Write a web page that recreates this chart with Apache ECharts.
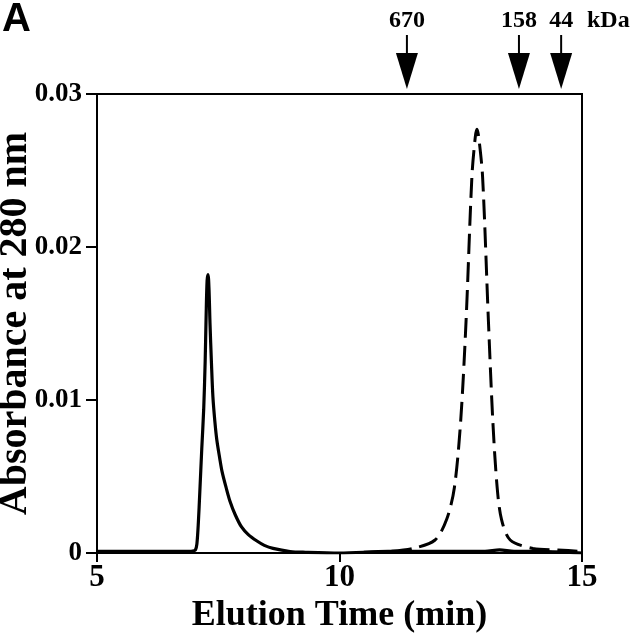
<!DOCTYPE html>
<html>
<head>
<meta charset="utf-8">
<script src="https://cdn.jsdelivr.net/npm/echarts@6/dist/echarts.min.js"></script>
<style>html,body{margin:0;padding:0;background:#fff}#c{width:640px;height:640px}</style>
</head>
<body>
<div id="c"></div>
<script>
// Elution time (min) and absorbance, solid trace
const solidTime = [5.0,5.5,6.0,6.5,6.9,7.0,7.03,7.06,7.09,7.12,7.16,7.20,7.23,7.25,7.27,7.29,7.31,7.33,7.36,7.39,7.43,7.47,7.53,7.58,7.66,7.74,7.85,7.98,8.12,8.29,8.45,8.63,8.98,9.3,10.0,11.0,12.0,13.0,13.3,13.6,14.0,15.0];
const solidAbs  = [0.0001,0.0001,0.0001,0.0001,0.0001,0.00015,0.0002,0.0006,0.0020,0.0040,0.0068,0.0094,0.0125,0.0155,0.0178,0.0182,0.0172,0.0150,0.0124,0.0102,0.0086,0.0074,0.0062,0.0053,0.0043,0.0034,0.0025,0.0017,0.0012,0.0008,0.0005,0.0003,0.0001,0.00005,0.0,0.0001,0.0001,0.0001,0.0002,0.0001,0.0001,0.0];
// dashed trace
const dashTime = [10.5,11.0,11.52,11.97,12.21,12.37,12.5,12.61,12.73,12.8,12.835,12.87,12.95,13.07,13.16,13.25,13.34,13.52,13.99,14.5,15.0];
const dashAbs  = [0.00005,0.0001,0.0003,0.00085,0.0022,0.0043,0.0087,0.0152,0.0246,0.0272,0.0277,0.0272,0.0246,0.0152,0.0087,0.0043,0.0022,0.00085,0.0003,0.0002,0.0001];
// molecular-weight markers
const markerTime = [11.39, 13.70, 14.57];
const markerLabel = ['670','158','44'];
const xTicks = [5,10,15];
const yTicks = [0,0.01,0.02,0.03];

const serif = 'Liberation Serif';
const chart = echarts.init(document.getElementById('c'), null, {renderer:'canvas'});
const pair = (a,b)=>a.map((v,i)=>[v,b[i]]);
chart.setOption({
  animation:false,
  grid:{left:97,right:58,top:94,bottom:87,show:true,borderColor:'#000',borderWidth:2,
    containLabel:false,outerBoundsMode:'none'},
  xAxis:{type:'value',min:xTicks[0],max:xTicks[xTicks.length-1],interval:5,
    name:'Elution Time (min)',nameLocation:'middle',nameGap:40,
    nameTextStyle:{fontFamily:serif,fontWeight:'bold',fontSize:36,color:'#000'},
    axisLine:{lineStyle:{color:'#000',width:2}},
    axisTick:{show:true,length:9,lineStyle:{color:'#000',width:2}},
    axisLabel:{fontFamily:serif,fontWeight:'bold',fontSize:31,color:'#000',margin:9},
    splitLine:{show:false}},
  yAxis:{type:'value',min:yTicks[0],max:yTicks[yTicks.length-1],interval:0.01,
    name:'Absorbance at 280 nm',nameLocation:'middle',nameGap:61,nameMoveOverlap:false,
    nameTextStyle:{fontFamily:serif,fontWeight:'bold',fontSize:40,color:'#000'},
    axisLine:{lineStyle:{color:'#000',width:2}},
    axisTick:{show:true,length:11,lineStyle:{color:'#000',width:2}},
    axisLabel:{fontFamily:serif,fontWeight:'bold',fontSize:27,color:'#000',margin:15,
      formatter:v=>v===0?'0':v.toFixed(2)},
    splitLine:{show:false}},
  series:[
    {type:'line',data:pair(solidTime,solidAbs),showSymbol:false,smooth:0.3,
      lineStyle:{color:'#000',width:3.2},z:3},
    {type:'line',data:pair(dashTime,dashAbs),showSymbol:false,smooth:0.3,
      lineStyle:{color:'#000',width:3,type:[20,8]},z:3}
  ]
});

const els = [];
markerTime.forEach((t,i)=>{
  const px = chart.convertToPixel({xAxisIndex:0}, t);
  els.push({type:'line',shape:{x1:px,y1:35,x2:px,y2:55},style:{stroke:'#000',lineWidth:2}});
  els.push({type:'polygon',shape:{points:[[px-11,53],[px+11,53],[px,89]]},style:{fill:'#000'}});
  els.push({type:'text',style:{text:markerLabel[i],x:px,y:21,align:'center',verticalAlign:'middle',
    font:'bold 24px "Liberation Serif"',fill:'#000'}});
});
els.push({type:'text',style:{text:'kDa',x:587,y:21,align:'left',verticalAlign:'middle',
  font:'bold 24px "Liberation Serif"',fill:'#000'}});
els.push({type:'text',style:{text:'A',x:2,y:20,align:'left',verticalAlign:'middle',
  font:'bold 40px "Liberation Sans"',fill:'#000'}});
chart.setOption({graphic:els});
</script>
</body>
</html>
